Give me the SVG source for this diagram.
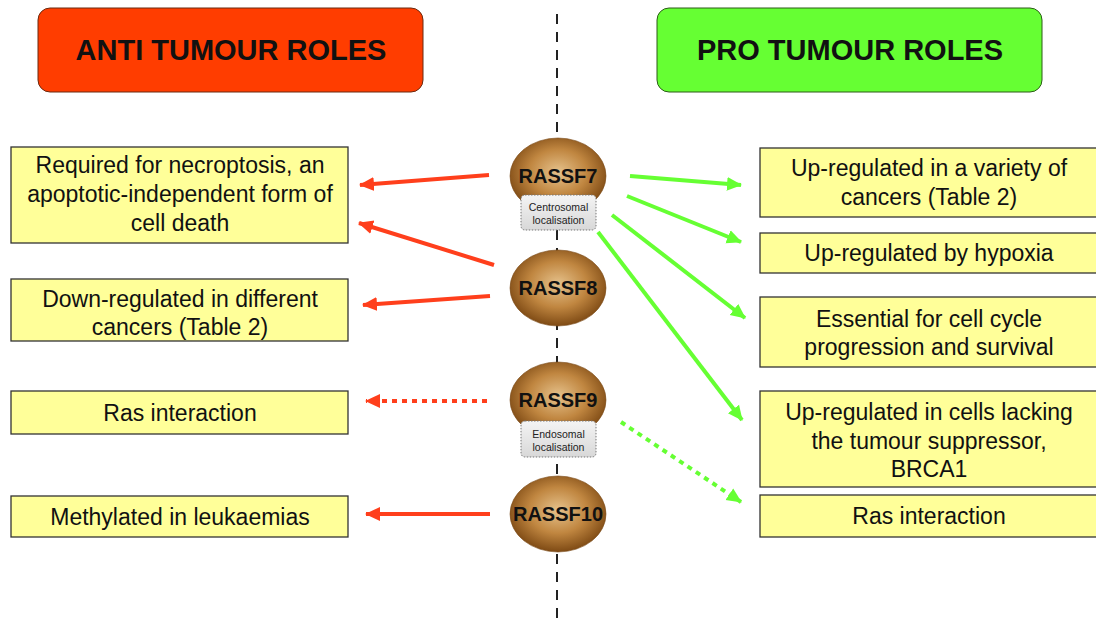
<svg xmlns="http://www.w3.org/2000/svg" width="1096" height="618" viewBox="0 0 1096 618">
<defs>
<radialGradient id="brown" cx="50%" cy="45%" r="55%">
<stop offset="0" stop-color="#e6c28c"/>
<stop offset="0.55" stop-color="#c08640"/>
<stop offset="1" stop-color="#7e4a14"/>
</radialGradient>
<linearGradient id="grey" x1="0" y1="0" x2="0" y2="1">
<stop offset="0" stop-color="#f4f4f4"/>
<stop offset="1" stop-color="#d8d8d8"/>
</linearGradient>
<marker id="ahR" markerUnits="userSpaceOnUse" markerWidth="16" markerHeight="16" viewBox="0 0 16 16" refX="14" refY="8" orient="auto">
<path d="M0,1 L15,8 L0,15 Z" fill="#ff3f1c"/>
</marker>
<marker id="ahG" markerUnits="userSpaceOnUse" markerWidth="16" markerHeight="16" viewBox="0 0 16 16" refX="14" refY="8" orient="auto">
<path d="M0,1 L15,8 L0,15 Z" fill="#66ff33"/>
</marker>
<style>
.title{font-family:"Liberation Sans",Arial,sans-serif;font-weight:bold;font-size:29px;fill:#111;text-anchor:middle}
.box{fill:#ffff99;stroke:#333;stroke-width:1.3}
.t{font-family:"Liberation Sans",Arial,sans-serif;font-size:23px;fill:#111;text-anchor:middle}
.ell{fill:url(#brown);stroke:#7a4a18;stroke-width:0.6}
.et{font-family:"Liberation Sans",Arial,sans-serif;font-weight:bold;font-size:20px;fill:#111;text-anchor:middle}
.lab{fill:url(#grey);stroke:#777;stroke-width:1;stroke-dasharray:1.5 1.5}
.lt{font-family:"Liberation Sans",Arial,sans-serif;font-size:10.5px;fill:#222;text-anchor:middle}
.red{stroke:#ff3f1c;stroke-width:4;fill:none;marker-end:url(#ahR)}
.green{stroke:#66ff33;stroke-width:4;fill:none;marker-end:url(#ahG)}
.dot{stroke-dasharray:5 5}
</style>
</defs>
<rect width="1096" height="618" fill="#ffffff"/>

<g id="axis">
<line x1="557" y1="14" x2="557" y2="618" stroke="#222" stroke-width="2" stroke-dasharray="10 8"/>
</g>

<g id="title-anti">
<rect x="38" y="8" width="385" height="84" rx="12" fill="#ff3d00" stroke="#6a2a10" stroke-width="1"/>
<text class="title" x="231" y="60">ANTI TUMOUR ROLES</text>
</g>
<g id="title-pro">
<rect x="657" y="8" width="385" height="84" rx="12" fill="#66ff33" stroke="#2c5a18" stroke-width="1"/>
<text class="title" x="850" y="60">PRO TUMOUR ROLES</text>
</g>

<g id="connectors">
<line class="red" x1="489" y1="175" x2="360" y2="185"/>
<line class="red" x1="494" y1="265" x2="359" y2="223"/>
<line class="red" x1="490" y1="296" x2="363" y2="305"/>
<line class="red dot" x1="487" y1="401" x2="366" y2="401"/>
<line class="red" x1="490" y1="514" x2="366" y2="514"/>
<line class="green" x1="630" y1="176" x2="741" y2="185"/>
<line class="green" x1="627" y1="196" x2="741" y2="242"/>
<line class="green" x1="612" y1="215" x2="745" y2="318"/>
<line class="green" x1="598" y1="232" x2="742" y2="420"/>
<line class="green dot" x1="621" y1="422" x2="741" y2="502"/>
</g>

<g id="left-necroptosis">
<rect class="box" x="11" y="147" width="337" height="96"/>
<text class="t" x="180" y="173">Required for necroptosis, an</text>
<text class="t" x="180" y="202">apoptotic-independent form of</text>
<text class="t" x="180" y="231">cell death</text>
</g>
<g id="left-downregulated">
<rect class="box" x="11" y="279" width="337" height="62"/>
<text class="t" x="180" y="307">Down-regulated in different</text>
<text class="t" x="180" y="335">cancers (Table 2)</text>
</g>
<g id="left-ras">
<rect class="box" x="11" y="391" width="337" height="43"/>
<text class="t" x="180" y="421">Ras interaction</text>
</g>
<g id="left-methylated">
<rect class="box" x="11" y="496" width="337" height="41"/>
<text class="t" x="180" y="525">Methylated in leukaemias</text>
</g>

<g id="right-variety">
<rect class="box" x="760" y="148" width="340" height="69"/>
<text class="t" x="929" y="176">Up-regulated in a variety of</text>
<text class="t" x="929" y="205">cancers (Table 2)</text>
</g>
<g id="right-hypoxia">
<rect class="box" x="760" y="233" width="340" height="40"/>
<text class="t" x="929" y="261">Up-regulated by hypoxia</text>
</g>
<g id="right-cellcycle">
<rect class="box" x="760" y="297" width="340" height="70"/>
<text class="t" x="929" y="327">Essential for cell cycle</text>
<text class="t" x="929" y="355">progression and survival</text>
</g>
<g id="right-brca1">
<rect class="box" x="760" y="391" width="340" height="96"/>
<text class="t" x="929" y="420">Up-regulated in cells lacking</text>
<text class="t" x="929" y="449">the tumour suppressor,</text>
<text class="t" x="929" y="477">BRCA1</text>
</g>
<g id="right-ras">
<rect class="box" x="760" y="495" width="340" height="42"/>
<text class="t" x="929" y="524">Ras interaction</text>
</g>

<g id="rassf7">
<ellipse class="ell" cx="558" cy="176" rx="48" ry="38"/>
<text class="et" x="558" y="183">RASSF7</text>
<rect class="lab" x="521" y="195" width="75" height="35" rx="4"/>
<text class="lt" x="558.5" y="211">Centrosomal</text>
<text class="lt" x="558.5" y="224">localisation</text>
</g>
<g id="rassf8">
<ellipse class="ell" cx="558" cy="288" rx="48" ry="38"/>
<text class="et" x="558" y="295">RASSF8</text>
</g>
<g id="rassf9">
<ellipse class="ell" cx="558" cy="400" rx="48" ry="38"/>
<text class="et" x="558" y="407">RASSF9</text>
<rect class="lab" x="521" y="421" width="75" height="36" rx="4"/>
<text class="lt" x="558.5" y="438">Endosomal</text>
<text class="lt" x="558.5" y="451">localisation</text>
</g>
<g id="rassf10">
<ellipse class="ell" cx="558" cy="514" rx="48" ry="38"/>
<text class="et" x="558" y="521">RASSF10</text>
</g>
</svg>
